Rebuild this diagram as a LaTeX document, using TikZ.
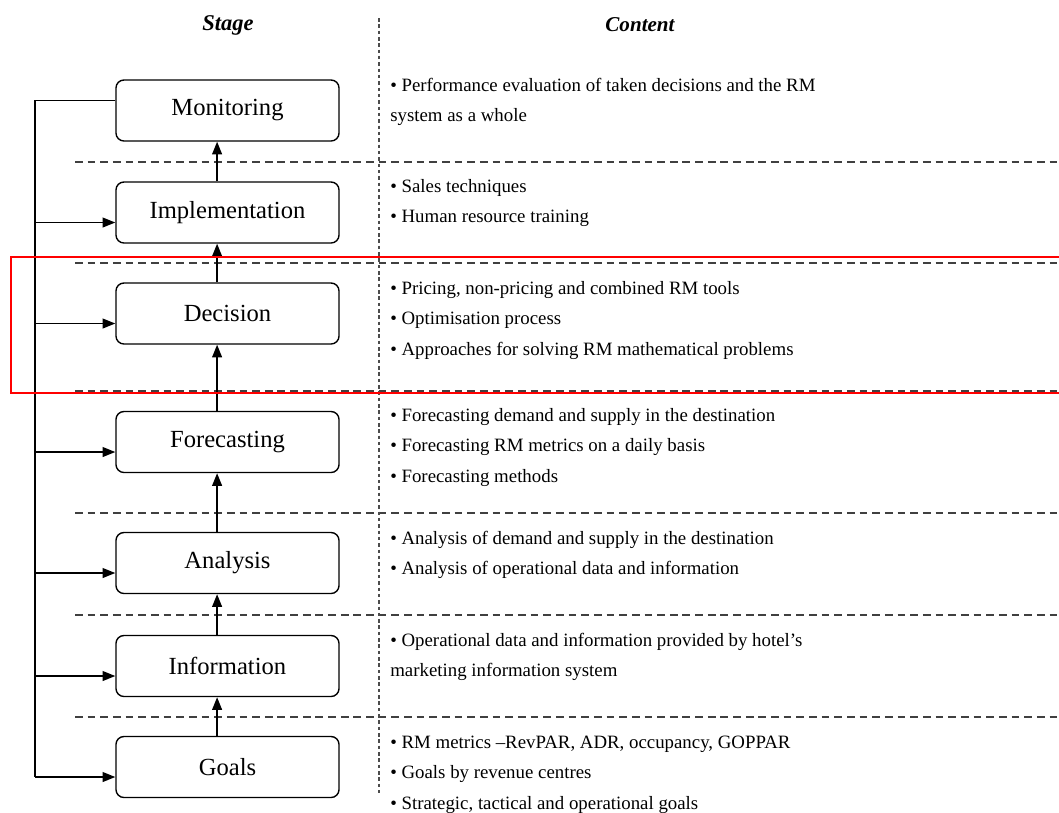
\documentclass[tikz,border=0pt]{standalone}
\usepackage{fontspec}
\setmainfont{Liberation Serif}
\usetikzlibrary{arrows.meta}

\begin{document}
\begin{tikzpicture}[x=0.025cm, y=-0.025cm,
        stagebox/.style={draw, line width=1pt, rounded corners=2mm, minimum width=5.575cm, minimum height=1.525cm, font=\fontsize{17.5}{21}\selectfont},
        flow/.style={line width=1pt, -{Triangle[length=9pt, width=7pt]}},
        sep/.style={line width=1.2pt, black!75, dash pattern=on 5.5pt off 3.5pt},
        item/.style={anchor=base west, align=left, inner sep=0pt, font=\fontsize{13.4}{21.6}\selectfont}]
    \useasboundingbox (0,0) rectangle (1059,812);
    % headers
    \node[font=\fontsize{16}{18}\selectfont\bfseries\itshape] (stagehd) at (228,25) {Stage};
    \node[font=\fontsize{15}{18}\selectfont\bfseries\itshape] (contenthd) at (640,25) {Content};
    % separators
    \foreach \y in {162,263,391,513,615,717} {
        \draw[sep] (75,\y) -- (1070,\y);
    }
    \draw[black!70, line width=0.8pt, dash pattern=on 2.5pt off 2pt] (379,18) -- (379,793);
    % stages
    \foreach \n/\t/\y in {mon/Monitoring/110.5, impl/Implementation/212.5, dec/Decision/313.5, fore/Forecasting/442, ana/Analysis/563, info/Information/666, goals/Goals/767} {
        \node[stagebox] (\n) at (227.5,\y) {\t};
    }
    \foreach \a/\b in {goals/info, info/ana, ana/fore, fore/dec, dec/impl, impl/mon} {
        \draw[flow] ([xshift=-2.6mm]\a.north) -- ([xshift=-2.6mm]\b.south);
    }
    % feedback rail
    \coordinate (rail) at (35,0);
    \coordinate (mon-out) at ([yshift=2.5mm]mon.west);
    \foreach \n in {impl, dec, fore, ana, info, goals} {
        \coordinate (\n-in) at ([yshift=-2.5mm]\n.west);
        \draw[flow] (rail |- \n-in) -- (\n-in);
    }
    \draw[line width=1pt] (mon-out) -| (rail |- goals-in);
    % contents (base = last line)
    \node[item] (c-mon) at (390,121.5) {\textbullet\ Performance evaluation of taken decisions and the RM\\system as a whole};
    \node[item] (c-impl) at (390,222.5) {\textbullet\ Sales techniques\\\textbullet\ Human resource training};
    \node[item] (c-dec) at (390,355) {\textbullet\ Pricing, non-pricing and combined RM tools\\\textbullet\ Optimisation process\\\textbullet\ Approaches for solving RM mathematical problems};
    \node[item] (c-fore) at (390,482) {\textbullet\ Forecasting demand and supply in the destination\\\textbullet\ Forecasting RM metrics on a daily basis\\\textbullet\ Forecasting methods};
    \node[item] (c-ana) at (390,574.5) {\textbullet\ Analysis of demand and supply in the destination\\\textbullet\ Analysis of operational data and information};
    \node[item] (c-info) at (390,676.5) {\textbullet\ Operational data and information provided by hotel’s\\marketing information system};
    \node[item] (c-goals) at (390,809) {\textbullet\ RM metrics –RevPAR, ADR, occupancy, GOPPAR\\\textbullet\ Goals by revenue centres\\\textbullet\ Strategic, tactical and operational goals};
    % highlight
    \draw[red, line width=1.5pt] (11,257) rectangle (1075,393);
\end{tikzpicture}
\end{document}
